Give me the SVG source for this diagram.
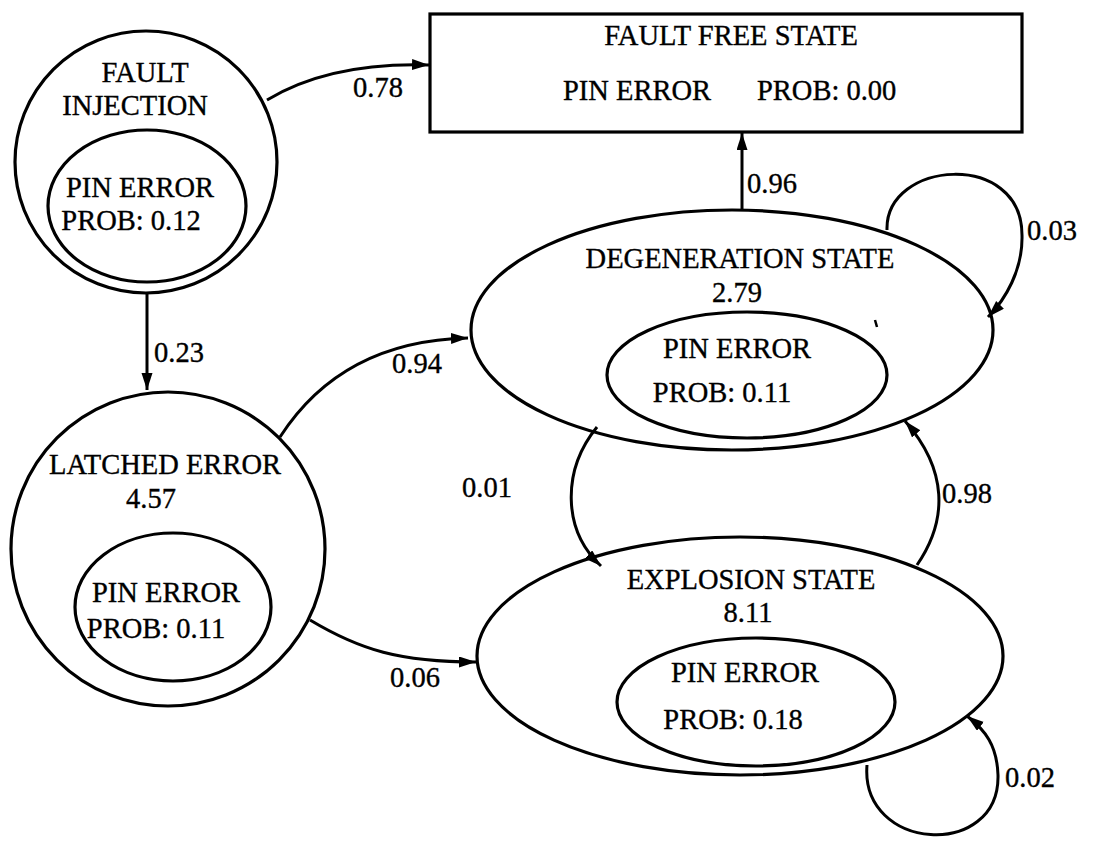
<svg xmlns="http://www.w3.org/2000/svg" width="1114" height="848" viewBox="0 0 1114 848">
  <style>
    .shape { fill: none; stroke: #000; stroke-width: 3.2; }
    .edge { fill: none; stroke: #000; stroke-width: 3; marker-end: url(#head); }
    text { font-family: "Liberation Serif", "Times New Roman", serif; font-size: 28.5px; fill: #000; stroke: #000; stroke-width: 0.35; }
    .c { text-anchor: middle; }
  </style>
  <defs>
    <marker id="head" markerUnits="userSpaceOnUse" markerWidth="20" markerHeight="12" refX="17" refY="5.5" orient="auto">
      <path d="M0,0 L17,5.5 L0,11 z" fill="#000"/>
    </marker>
  </defs>
  <rect width="1114" height="848" fill="#fff"/>

  <!-- Fault injection state -->
  <g id="fault-injection">
    <circle class="shape" cx="146" cy="162" r="131"/>
    <ellipse class="shape" cx="147" cy="206" rx="99" ry="76"/>
    <text class="c" x="145" y="82">FAULT</text>
    <text class="c" x="135" y="115">INJECTION</text>
    <text class="c" x="140" y="197">PIN ERROR</text>
    <text class="c" x="131" y="230">PROB: 0.12</text>
  </g>

  <!-- Fault free state -->
  <g id="fault-free">
    <rect class="shape" x="430" y="14" width="592" height="118"/>
    <text class="c" x="731" y="45">FAULT FREE STATE</text>
    <text x="563" y="100">PIN ERROR</text>
    <text x="757" y="100">PROB: 0.00</text>
  </g>

  <!-- Latched error state -->
  <g id="latched-error">
    <circle class="shape" cx="168" cy="549" r="157"/>
    <ellipse class="shape" cx="173" cy="607" rx="98" ry="74"/>
    <text class="c" x="165" y="474">LATCHED ERROR</text>
    <text class="c" x="151" y="508">4.57</text>
    <text class="c" x="166" y="602">PIN ERROR</text>
    <text class="c" x="156" y="638">PROB: 0.11</text>
  </g>

  <!-- Degeneration state -->
  <g id="degeneration">
    <ellipse class="shape" cx="732" cy="330" rx="261" ry="120"/>
    <ellipse class="shape" cx="747" cy="375" rx="140" ry="63"/>
    <text class="c" x="740" y="268">DEGENERATION STATE</text>
    <text class="c" x="737" y="302">2.79</text>
    <text class="c" x="737" y="358">PIN ERROR</text>
    <text class="c" x="722" y="402">PROB: 0.11</text>
    <path d="M875,320 L877,327" stroke="#000" stroke-width="2.5"/>
  </g>

  <!-- Explosion state -->
  <g id="explosion">
    <ellipse class="shape" cx="740" cy="656" rx="263" ry="119"/>
    <ellipse class="shape" cx="756" cy="702" rx="139" ry="64"/>
    <text class="c" x="751" y="589">EXPLOSION STATE</text>
    <text class="c" x="748" y="622">8.11</text>
    <text class="c" x="745" y="682">PIN ERROR</text>
    <text class="c" x="733" y="729">PROB: 0.18</text>
  </g>

  <!-- Transitions -->
  <g id="connectors">
    <path class="edge" d="M267,100 Q330,62 429,65"/>
    <path class="edge" d="M147,293 L147,390"/>
    <path class="edge" d="M742,210 L742,133"/>
    <path class="edge" d="M280,437 C320,375 380,340 468,338"/>
    <path class="edge" d="M310,620 C360,650 400,662 476,662"/>
    <path class="edge" d="M597,427 C562,470 562,530 601,566"/>
    <path class="edge" d="M917,565 C948,520 948,470 905,421"/>
    <path class="edge" d="M887,230 C885,160 1022,150 1022,235 C1023,270 1005,300 988,317"/>
    <path class="edge" d="M867,765 C860,852 1000,860 998,775 C997,745 985,730 967,716"/>

    <text x="353" y="97">0.78</text>
    <text x="154" y="362">0.23</text>
    <text x="747" y="193">0.96</text>
    <text x="1027" y="240">0.03</text>
    <text x="392" y="373">0.94</text>
    <text x="462" y="497">0.01</text>
    <text x="942" y="503">0.98</text>
    <text x="390" y="687">0.06</text>
    <text x="1005" y="787">0.02</text>
  </g>
</svg>
